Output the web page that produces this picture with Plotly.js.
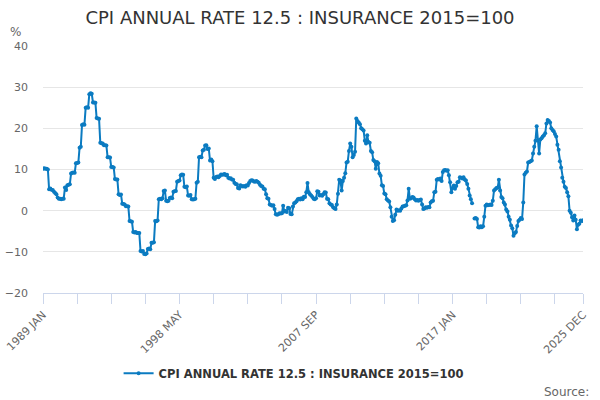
<!DOCTYPE html>
<html>
<head>
<meta charset="utf-8">
<script src="https://cdn.plot.ly/plotly-3.0.1.min.js"></script>
<style>html,body{margin:0;padding:0;background:#fff}#chart{width:600px;height:400px}</style>
</head>
<body>
<div id="chart"></div>
<script>
var monthNames = ["JAN","FEB","MAR","APR","MAY","JUN","JUL","AUG","SEP","OCT","NOV","DEC"];
var firstYear = 1989;
var lastYear = 2025;
var seriesName = "CPI ANNUAL RATE 12.5 : INSURANCE 2015=100";

var values = [
10.2,10.3,10.2,10.2,10.0,5.2,5.4,5.1,5.0,4.6,4.3,4.0,3.2,2.9,2.9,2.8,2.9,2.9,5.6,5.0,
6.2,6.3,6.4,9.0,9.2,9.3,9.2,11.5,11.6,11.7,15.3,15.5,20.8,21.0,20.9,25.0,25.1,25.0,28.3,28.5,
28.4,26.3,26.3,26.2,22.5,22.4,22.3,16.5,16.4,16.3,15.9,15.9,15.8,13.0,13.0,12.9,10.6,10.6,10.5,7.7,
7.6,7.6,4.0,3.8,3.9,1.7,1.6,1.5,1.1,1.1,1.0,-2.5,-2.6,-2.7,-5.2,-5.3,-5.2,-5.4,-5.4,-5.4,
-9.8,-9.9,-9.8,-10.5,-10.6,-10.4,-9.3,-9.2,-9.4,-7.8,-7.8,-7.7,-2.5,-2.6,-2.4,2.8,2.9,2.8,3.0,4.8,
4.9,2.4,2.3,2.4,3.1,3.2,3.0,4.6,4.7,4.8,7.0,7.2,7.3,8.6,8.8,8.7,5.8,5.7,5.9,3.7,
3.6,3.8,2.8,2.7,2.8,2.9,6.8,7.0,13.0,13.1,13.0,14.6,14.8,15.8,15.9,15.0,15.1,12.2,12.4,12.0,
8.0,7.7,8.2,8.3,8.1,8.4,8.8,8.7,8.8,8.9,8.6,8.7,8.0,7.8,7.9,7.6,7.5,6.8,6.5,6.4,
5.5,5.4,6.2,6.0,5.9,6.0,5.8,6.2,6.1,6.7,7.2,7.4,7.3,7.1,7.0,7.2,7.0,6.8,6.3,6.0,
5.9,5.3,5.2,4.0,3.0,2.9,1.5,1.4,1.2,1.3,0.4,-0.9,-1.0,-0.9,-0.6,-0.7,-0.6,1.2,-0.2,-0.1,
-0.3,0.7,0.6,-0.8,-0.9,1.0,1.8,2.0,2.3,2.8,2.9,2.7,3.0,2.8,3.4,3.3,4.5,6.7,4.5,4.0,
3.7,3.3,2.9,2.8,3.0,4.7,4.6,3.7,3.8,3.6,4.0,4.5,4.4,2.9,2.8,1.8,1.5,1.4,0.8,0.6,
0.4,1.5,4.1,7.5,7.3,4.9,7.2,8.0,9.1,11.7,11.9,14.5,16.3,15.5,13.0,13.5,14.3,22.4,21.8,21.4,
21.0,20.0,19.8,19.5,17.0,16.3,18.3,16.7,16.5,14.5,14.2,12.3,12.0,10.2,11.8,11.5,9.0,8.5,6.2,6.0,
4.2,4.0,2.8,2.5,2.2,0.8,-1.5,-2.5,-2.3,-1.0,0.3,0.0,0.1,0.0,0.5,1.0,1.1,1.2,1.3,2.5,
5.3,2.9,3.0,3.3,3.2,2.8,2.5,2.6,2.4,2.6,2.7,1.5,0.4,0.5,0.8,0.7,0.9,0.8,2.0,2.3,
2.4,4.5,4.6,7.5,7.7,7.6,7.8,7.2,9.4,9.8,9.9,9.7,9.8,8.6,6.9,4.5,5.5,6.1,5.3,6.0,
6.9,7.0,8.1,8.0,7.8,8.1,7.6,7.3,6.5,5.3,3.7,2.8,1.8,null,-1.9,-1.8,-2.0,-4.0,-4.1,-3.8,
-4.0,-3.8,-1.5,1.2,1.5,1.3,1.4,1.5,1.4,2.4,4.9,5.2,5.5,5.6,7.5,4.9,3.3,3.0,2.0,1.5,
0.3,-0.2,-1.5,-2.2,-3.6,-4.3,-6.1,-5.5,-5.2,-3.7,-2.5,-2.2,-1.8,-2.0,2.0,8.8,9.2,9.5,11.7,11.8,
12.0,12.2,13.9,15.5,17.0,20.5,17.1,13.9,17.3,17.6,18.0,18.3,18.8,21.2,22.0,21.8,21.4,20.0,19.6,19.3,
18.6,18.0,16.0,14.8,12.0,10.5,8.0,7.0,5.8,5.5,4.5,3.5,0.0,-0.5,-1.6,-2.4,-1.2,-2.2,-4.5,-3.4,
-3.2,-2.4,-2.5,-2.3
];

var categories = [];
for (var y = firstYear; y <= lastYear; y++) {
  for (var m = 0; m < 12; m++) categories.push(y + " " + monthNames[m]);
}

var labelledTicks = ["1989 JAN","1998 MAY","2007 SEP","2017 JAN","2025 DEC"];
var tickStep = 28;
var tickVals = [], tickText = [];
for (var k = 0; k < categories.length; k += tickStep) tickVals.push(categories[k]);
if (tickVals[tickVals.length-1] !== categories[categories.length-1]) tickVals.push(categories[categories.length-1]);
tickVals.forEach(function(c){ tickText.push(labelledTicks.indexOf(c) >= 0 ? c : ""); });

var blue = "#0b7bc1";
var trace = {
  x: categories,
  y: values,
  type: "scatter",
  mode: "lines+markers",
  name: seriesName,
  connectgaps: false,
  line: {color: blue, width: 2},
  marker: {color: blue, size: 4},
  hoverinfo: "skip"
};

var layout = {
  width: 600, height: 400,
  margin: {l: 43, r: 17, t: 46, b: 107},
  paper_bgcolor: "#fff", plot_bgcolor: "#fff",
  font: {family: "DejaVu Sans, sans-serif", color: "#666666", size: 11},
  title: {text: "CPI ANNUAL RATE 12.5 : INSURANCE 2015=100", font: {size: 18, color: "#333333"}, x: 0.5, xanchor: "center", y: 0.955, yanchor: "middle"},
  showlegend: true,
  legend: {orientation: "h", x: 0.14, xanchor: "left", y: -0.325, yanchor: "middle", itemwidth: 30, font: {size: 11.5, color: "#333333", weight: "bold"}},
  xaxis: {
    type: "category",
    categoryorder: "array", categoryarray: categories,
    range: [0, categories.length - 1],
    tickmode: "array", tickvals: tickVals, ticktext: tickText,
    tickangle: -45,
    ticks: "outside", ticklen: 10, tickcolor: "#ccd6eb", tickwidth: 1,
    showline: true, linecolor: "#ccd6eb", linewidth: 1,
    showgrid: false, zeroline: false,
    tickfont: {size: 11, color: "#666666"},
    fixedrange: true
  },
  yaxis: {
    range: [-20, 40], dtick: 10, tick0: 0,
    showgrid: true, gridcolor: "#e6e6e6", gridwidth: 1,
    zeroline: false, showline: false,
    ticks: "", ticklabelstandoff: 14,
    tickfont: {size: 11, color: "#666666"},
    fixedrange: true
  },
  annotations: [
    {text: "%", xref: "paper", yref: "paper", x: -0.064, y: 1.058, xanchor: "left", yanchor: "middle", showarrow: false, font: {size: 12, color: "#666666"}},
    {text: "Source:", xref: "paper", yref: "paper", x: 1.015, y: -0.4, xanchor: "right", yanchor: "middle", showarrow: false, font: {size: 12, color: "#666666"}}
  ]
};

Plotly.newPlot("chart", [trace], layout, {displayModeBar: false, staticPlot: true});
</script>
</body>
</html>
